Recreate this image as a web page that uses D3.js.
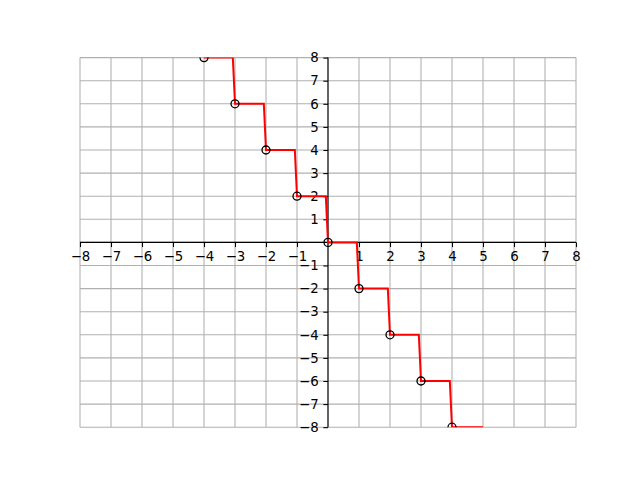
<!DOCTYPE html>
<html><head><meta charset="utf-8">
<script src="https://cdn.jsdelivr.net/npm/d3@7"></script>
<style>body{margin:0;background:#fff}svg{display:block}text{font-family:"DejaVu Sans",sans-serif;font-size:13.33px;fill:#000}</style>
</head><body>
<script>
// data
const stepX = [-4, -3, -2, -1, 0, 1, 2, 3, 4];
const stepY = [8, 6, 4, 2, 0, -2, -4, -6, -8];
const xTicks = [-8,-7,-6,-5,-4,-3,-2,-1,1,2,3,4,5,6,7,8];
const yTicks = [-8,-7,-6,-5,-4,-3,-2,-1,1,2,3,4,5,6,7,8];
const gridVals = d3.range(-8, 9);
const dropWidth = 0.07;

const W = 640, H = 480;
const L = 80, R = 576, T = 57.6, B = 427.2;
const svg = d3.select("body").append("svg").attr("width", W).attr("height", H);
const x = d3.scaleLinear().domain([-8, 8]).range([L, R]);
const y = d3.scaleLinear().domain([-8, 8]).range([B, T]);

svg.append("clipPath").attr("id", "clip").append("rect")
  .attr("x", L).attr("y", T).attr("width", R - L).attr("height", B - T);

// grid
const g = svg.append("g").attr("stroke", "#b0b0b0").attr("stroke-width", 1.07);
g.selectAll(".gx").data(gridVals).join("line")
  .attr("x1", d => x(d)).attr("x2", d => x(d)).attr("y1", T).attr("y2", B);
g.selectAll(".gy").data(gridVals).join("line")
  .attr("y1", d => y(d)).attr("y2", d => y(d)).attr("x1", L).attr("x2", R);

// axes through origin
const fmt = d => (d < 0 ? "\u2212" + Math.abs(d) : String(d));
const xAxis = d3.axisBottom(x).tickValues(xTicks).tickFormat(fmt).tickSize(4.67).tickPadding(4.67);
const yAxis = d3.axisLeft(y).tickValues(yTicks).tickFormat(fmt).tickSize(4.67).tickPadding(4.67);
const ax = svg.append("g").attr("transform", `translate(0,${y(0)})`).call(xAxis);
const ay = svg.append("g").attr("transform", `translate(${x(0)},0)`).call(yAxis);
[ax, ay].forEach(a => {
  a.select(".domain").attr("stroke", "#000").attr("stroke-width", 1.07);
  a.selectAll(".tick line").attr("stroke", "#000").attr("stroke-width", 1.07);
  a.selectAll("text").style("font-family", "DejaVu Sans").style("font-size", "13.33px");
  a.attr("font-family", null).attr("font-size", null);
});
ax.select(".domain").attr("d", `M${L},0H${R}`);
ay.select(".domain").attr("d", `M0,${T}V${B}`);

// step line
const pts = [];
stepX.forEach((sx, i) => {
  pts.push([sx, stepY[i]]);
  pts.push([sx + 1 - (i < stepX.length - 1 ? dropWidth : 0), stepY[i]]);
});
const plot = svg.append("g").attr("clip-path", "url(#clip)");
plot.append("path").datum(pts)
  .attr("d", d3.line().x(d => x(d[0])).y(d => y(d[1])))
  .attr("fill", "none").attr("stroke", "#ff0000").attr("stroke-width", 2);
plot.selectAll("circle").data(stepX).join("circle")
  .attr("cx", d => x(d)).attr("cy", (d, i) => y(stepY[i])).attr("r", 4)
  .attr("fill", "none").attr("stroke", "#000").attr("stroke-width", 1.33);
</script>
</body></html>
